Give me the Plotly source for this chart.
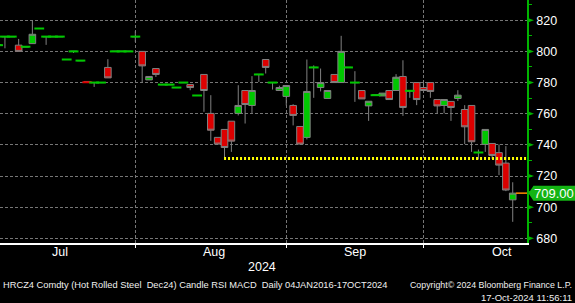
import pandas as pd
import plotly.graph_objects as go

# ---------------- data ----------------
holidays = ["2024-07-04", "2024-09-02"]
dates = [d.strftime("%Y-%m-%d") for d in pd.bdate_range("2024-07-02", "2024-10-17")
         if d.strftime("%Y-%m-%d") not in holidays]

open_ = [804, 809.5, 809.5, 804, 803, 805, 814.7, 809.5, 809.5, 809.5,
         794.8, 800, 794.1, 780.7, 780, 780, 789.7, 800, 800, 800,
         809.5, 800, 781.7, 789, 778.7, 778.7, 776.8, 780, 778.7, 771.7,
         785.2, 760.2, 744.8, 749.9, 755.2, 760.2, 774.9, 765.3, 785.2, 794.8,
         780, 774.9, 771.1, 765.3, 751.8, 744.8, 789.7, 776.8, 769.8, 785.2,
         780, 789.7, 780, 774.9, 765, 771.9, 771.4, 774.9, 774.9, 783.9,
         774.7, 780, 776.8, 780, 769.1, 765.3, 767.9, 769.8, 762.7, 765.3,
         735.1, 740.3, 740.9, 735, 728.3, 704.7]
high = [804, 809.5, 809.5, 808, 803, 820, 814.7, 809.5, 809.5, 809.5,
        794.8, 800, 794.1, 780.7, 780, 780, 795, 800, 800, 800,
        813, 800, 783.9, 789, 778.7, 778.7, 776.8, 780, 778.7, 771.7,
        785.2, 771.9, 744.8, 749.9, 755.2, 778.3, 774.9, 784.1, 785.2, 794.8,
        780, 778, 778.1, 766.1, 751.8, 794.8, 791, 789, 774.9, 785.2,
        810, 789.7, 787.3, 774.9, 768, 771.9, 773.2, 774.9, 785.4, 794.3,
        774.7, 780, 781.5, 780, 769.1, 769.1, 767.9, 775.1, 765.5, 765.3,
        737, 749.9, 741, 740.3, 739.2, 716]
low = [804, 802, 809.5, 800, 803, 804.8, 814.7, 804.2, 809.5, 809.5,
       794.8, 799, 794.1, 780.2, 777.2, 780, 783, 800, 800, 800,
       806, 780, 781.7, 783.6, 778.7, 778.7, 776.8, 780, 775.1, 771.7,
       761.2, 742.6, 740.5, 731.3, 735.5, 758.9, 753.7, 760.5, 780.4, 785.8,
       775.5, 774.9, 765.3, 752.5, 740.5, 743.5, 770.2, 774.3, 769.8, 780,
       780, 789.7, 767.6, 769.5, 755.4, 771.9, 771.4, 769.1, 774.9, 758.6,
       770.2, 765.5, 774.9, 770.2, 760.2, 760.2, 755.4, 768.2, 740.5, 735.5,
       730.6, 735.5, 731, 720.6, 710.3, 690.6]
close = [804, 809.5, 809.5, 800, 803, 811, 814.7, 809.5, 809.5, 809.5,
         794.8, 800, 794.1, 780.2, 780, 780, 783, 800, 800, 800,
         809.5, 790.7, 783.9, 785.2, 778.7, 778.7, 776.8, 780, 776.8, 771.7,
         774.9, 749.4, 740.5, 738.3, 742.4, 765.3, 765.9, 774.9, 785.2, 789.7,
         780, 776.8, 778.1, 758.9, 740.5, 774.3, 789.7, 780, 774.9, 780,
         800, 789.7, 780, 769.5, 768, 771.9, 773.2, 769.1, 783.4, 764,
         774.7, 769.1, 774.9, 774.3, 765, 769.1, 764, 771.9, 751.6, 742,
         735.1, 749.9, 733.2, 727, 711, 709]

y_ticks = [680, 700, 720, 740, 760, 780, 800, 820]
month_labels = ["Jul", "Aug", "Sep", "Oct"]
month_ends = ["2024-07-31", "2024-08-30", "2024-09-30"]
support_level = 731.3
support_start = "2024-08-19"

title_text = "HRCZ4 Comdty (Hot Rolled Steel  Dec24) Candle RSI MACD  Daily 04JAN2016-17OCT2024"
copyright_text = "Copyright\u00a9 2024 Bloomberg Finance L.P."
stamp_text = "17-Oct-2024 11:56:11"

# ---------------- styling ----------------
GREEN = "#00c800"
RED = "#dc0000"
EDGE = "#808080"
GRID = "#767676"
AXGREEN = "#00b400"
W, H = 575, 303
PLOT_W, PLOT_H = 527, 243
YR = [677, 833]
XR = [0.28, 77.08]
ppu = PLOT_H / (YR[1] - YR[0])  # pixels per price unit


def py_below(px):
    """paper y for a pixel distance below the plot bottom"""
    return -px / PLOT_H


fig = go.Figure()
fig.add_trace(go.Candlestick(
    x=dates, open=open_, high=high, low=low, close=close,
    increasing=dict(fillcolor=GREEN, line=dict(color=EDGE, width=1)),
    decreasing=dict(fillcolor=RED, line=dict(color=EDGE, width=1)),
    whiskerwidth=0, showlegend=False, hoverinfo="skip",
))

flat_idx = [i for i in range(len(dates)) if abs(open_[i] - close[i]) < 1]
fig.add_trace(go.Scatter(
    x=[dates[i] for i in flat_idx], y=[close[i] for i in flat_idx],
    mode="markers",
    marker=dict(symbol="line-ew", size=7,
                line=dict(width=2, color=[RED if open_[i] > close[i] else GREEN for i in flat_idx])),
    showlegend=False, hoverinfo="skip",
))

shapes = []
shapes.append(dict(type="line", xref="x", yref="y",
                   x0=dates.index(support_start) - 0.07, x1=XR[1],
                   y0=support_level, y1=support_level,
                   line=dict(color="#ffff00", width=3, dash="2px,2px"), layer="above"))
last = close[-1]
shapes.append(dict(type="line", xref="x", yref="y",
                   x0=len(dates) - 1 + 0.47, x1=XR[1], y0=last, y1=last,
                   line=dict(color="#ff8c00", width=1.5)))
ax_w = 7 / PLOT_W
half = 2.6 / ppu
for v in y_ticks:
    shapes.append(dict(type="path", xref="paper", yref="y",
                       path=f"M 1,{v + half} L 1,{v - half} L {1 + ax_w},{v} Z",
                       fillcolor=AXGREEN, line=dict(width=0)))
bh = 7.5 / ppu
x_tip = 1.5 / PLOT_W
x_box = 6.5 / PLOT_W
x_end = (W - PLOT_W) / PLOT_W
shapes.append(dict(type="path", xref="paper", yref="y",
                   path=(f"M {1 + x_tip},{last} L {1 + x_box},{last + bh} L {1 + x_end},{last + bh} "
                         f"L {1 + x_end},{last - bh} L {1 + x_box},{last - bh} Z"),
                   fillcolor="#14b414", line=dict(width=0)))

annotations = []
annotations.append(dict(xref="paper", yref="y", x=1 + (x_box + x_end) / 2, y=last,
                        xanchor="center", yanchor="middle",
                        text=f"{last:.2f}", showarrow=False,
                        font=dict(family="Arial", size=13, color="#ffffff")))
month_pos = [-11 + 20, 11.5 + 20, 32 + 20, 53.5 + 20]
for lab, pos in zip(month_labels, month_pos):
    annotations.append(dict(xref="x", yref="paper", x=pos, y=py_below(8.5),
                            xanchor="center", yanchor="middle",
                            text=lab, showarrow=False,
                            font=dict(family="Arial", size=12.5, color="#ffffff")))
annotations.append(dict(xref="paper", yref="paper", x=262 / PLOT_W, y=py_below(23.5),
                        xanchor="center", yanchor="middle",
                        text="2024", showarrow=False,
                        font=dict(family="Arial", size=12.5, color="#ffffff")))
annotations.append(dict(xref="paper", yref="paper", x=1 / PLOT_W, y=py_below(41.5),
                        xanchor="left", yanchor="middle", text=title_text, showarrow=False,
                        font=dict(family="Arial", size=9.3, color="#f0f0f0")))
annotations.append(dict(xref="paper", yref="paper", x=574 / PLOT_W, y=py_below(41.5),
                        xanchor="right", yanchor="middle", text=copyright_text, showarrow=False,
                        font=dict(family="Arial", size=8.8, color="#f0f0f0")))
annotations.append(dict(xref="paper", yref="paper", x=574 / PLOT_W, y=py_below(54.5),
                        xanchor="right", yanchor="middle", text=stamp_text, showarrow=False,
                        font=dict(family="Arial", size=9.5, color="#f0f0f0")))

fig.update_layout(
    width=W, height=H,
    margin=dict(l=0, r=W - PLOT_W, t=0, b=H - PLOT_H),
    paper_bgcolor="#000000", plot_bgcolor="#000000",
    boxgap=0.04, boxgroupgap=0,
    shapes=shapes, annotations=annotations,
    showlegend=False,
    xaxis=dict(type="category", range=XR, rangeslider=dict(visible=False),
               tickvals=month_ends, showticklabels=False,
               ticks="outside", ticklen=3, tickcolor="#ffffff", tickwidth=1,
               showgrid=True, gridcolor=GRID, gridwidth=1, griddash="3px,2px",
               showline=True, linecolor="#ffffff", linewidth=1.5, zeroline=False, fixedrange=True),
    yaxis=dict(side="right", range=YR, tickvals=y_ticks, ticktext=[str(v) for v in y_ticks],
               ticks="", showgrid=True, gridcolor=GRID, gridwidth=1, griddash="3px,2px",
               showline=True, linecolor=AXGREEN, linewidth=1.5, zeroline=False,
               tickfont=dict(family="Arial", size=12.5, color="#ffffff"),
               ticklabelstandoff=5,
               minor=dict(dtick=10, tick0=0, ticks="outside", ticklen=3, tickcolor=AXGREEN, tickwidth=1,
                          showgrid=False),
               fixedrange=True),
)

fig.write_html("out.html")
